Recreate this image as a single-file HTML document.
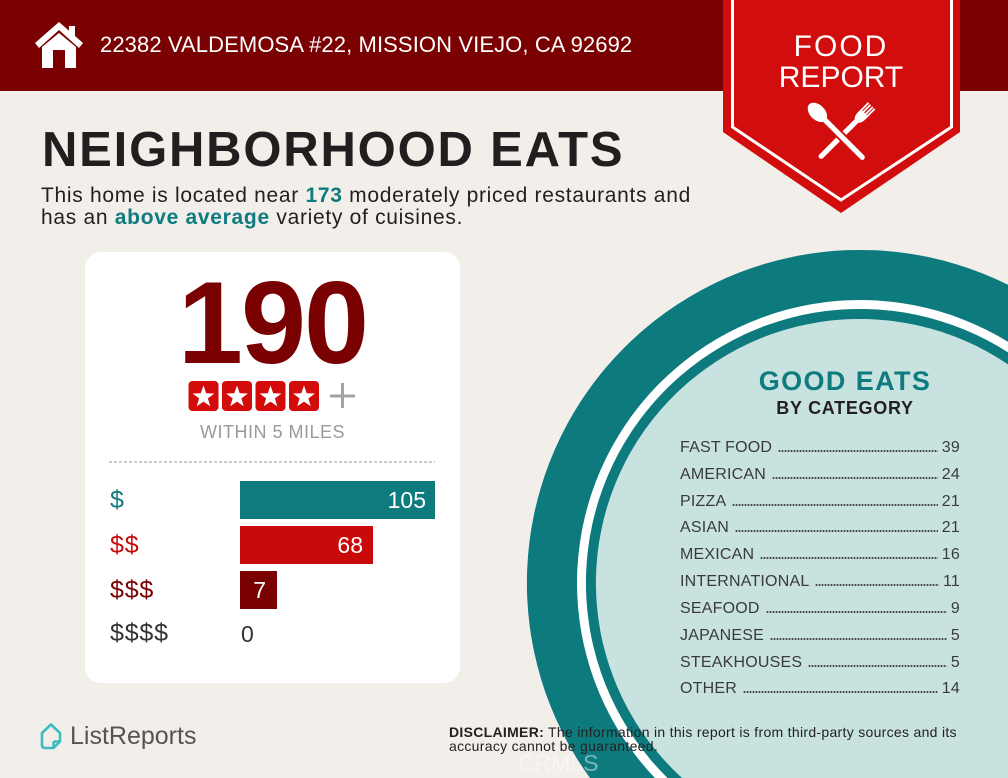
<!DOCTYPE html>
<html>
<head>
<meta charset="utf-8">
<style>
html,body{margin:0;padding:0;width:1008px;height:778px;overflow:hidden;}
body{background:#f2eeea;position:relative;font-family:"Liberation Sans",Arial,sans-serif;}
.a{position:absolute;white-space:nowrap;}
.row{position:absolute;left:680px;width:280px;height:16px;display:flex;align-items:baseline;font-size:16px;line-height:16px;color:#3a3a3a;letter-spacing:0.2px;}
.row .d{flex:1;height:2px;margin:0 4px 0 6px;background-image:radial-gradient(circle,#444 0.8px,transparent 1.25px);background-size:3px 2px;background-repeat:repeat-x;}
</style>
</head>
<body>
<!-- header bar -->
<div class="a" style="left:0;top:0;width:1008px;height:91px;background:#7a0101;"></div>

<!-- shapes -->
<svg class="a" style="left:0;top:0;display:block" width="1008" height="778" viewBox="0 0 1008 778">
  <!-- big circle (clipped to frame) -->
  <path d="M1008,284.7 A333,333 0 0,0 590,778 L1008,778 Z" fill="#0d7a7e"/>
  <path d="M1008,341.8 A283,283 0 0,0 654.9,778 L1008,778 Z" fill="#ffffff"/>
  <path d="M1008,352.4 A274,274 0 0,0 667.5,778 L1008,778 Z" fill="#0d7a7e"/>
  <path d="M1008,364.4 A264,264 0 0,0 682,778 L1008,778 Z" fill="#c8e2e0"/>

  <!-- ribbon -->
  <polygon points="723,0 960,0 960,132 841,213 723,132" fill="#d20d0d"/>
  <polyline points="732.5,0 732.5,127 841,200 951.5,127 951.5,0" fill="none" stroke="#ffffff" stroke-width="3"/>

  <!-- fork -->
  <g transform="translate(845.5,132) rotate(45)" fill="#ffffff">
    <rect x="-5.2" y="-37" width="1.8" height="11"/>
    <rect x="-2.5" y="-37" width="1.8" height="11"/>
    <rect x="0.7" y="-37" width="1.8" height="11"/>
    <rect x="3.4" y="-37" width="1.8" height="11"/>
    <path d="M-5.2,-27 L5.2,-27 L5.2,-23 Q5.2,-17 1.8,-15 L-1.8,-15 Q-5.2,-17 -5.2,-23 Z"/>
    <rect x="-2.6" y="-17" width="5.2" height="54" rx="2.6"/>
  </g>
  <!-- spoon -->
  <g transform="translate(836.5,131.5) rotate(-45)">
    <rect x="-4.5" y="-18" width="9" height="58" rx="4.5" fill="#d20d0d"/>
    <ellipse cx="0" cy="-27" rx="7.5" ry="11.5" fill="#ffffff"/>
    <rect x="-2.6" y="-18" width="5.2" height="57" rx="2.6" fill="#ffffff"/>
  </g>

  <!-- house icon -->
  <polygon points="35,43 59,22 83,43 79,48 59,30 39,48" fill="#ffffff"/>
  <rect x="69" y="26" width="6" height="11" fill="#ffffff"/>
  <polygon points="42,47 59,33 76,47 76,68 65,68 65,50 53,50 53,68 42,68" fill="#ffffff"/>

  <!-- ListReports icon -->
  <path d="M42,733 L51,724.5 L60,733 L60,741.5 L53.5,748 L45,748 Q42,748 42,745 Z" fill="none" stroke="#3cbcc0" stroke-width="2.6" stroke-linejoin="round"/>
  <path d="M53.5,748 L53.5,743.5 Q53.5,741.5 55.5,741.5 L60,741.5" fill="none" stroke="#3cbcc0" stroke-width="2.4" stroke-linejoin="round"/>
</svg>

<!-- header text -->
<div class="a" style="left:100px;top:34.4px;font-size:22px;line-height:22px;color:#ffffff;letter-spacing:0.1px;">22382 VALDEMOSA #22, MISSION VIEJO, CA 92692</div>
<div class="a" style="left:741px;width:200px;text-align:center;top:31.6px;font-size:30px;line-height:30px;color:#ffffff;letter-spacing:2px;">FOOD</div>
<div class="a" style="left:741px;width:200px;text-align:center;top:62.6px;font-size:30px;line-height:30px;color:#ffffff;">REPORT</div>

<!-- title -->
<div class="a" style="left:42px;top:125.5px;font-size:49px;line-height:49px;font-weight:bold;color:#221e1f;letter-spacing:1.8px;">NEIGHBORHOOD EATS</div>
<div class="a" style="left:41px;top:184.7px;font-size:21px;line-height:22px;color:#231f20;letter-spacing:0.7px;">This home is located near <b style="color:#0e7b7f">173</b> moderately priced restaurants and<br>has an <b style="color:#0e7b7f">above average</b> variety of cuisines.</div>

<!-- card -->
<div class="a" style="left:85px;top:252px;width:375px;height:431px;background:#ffffff;border-radius:16px;"></div>
<div class="a" style="left:85px;width:375px;text-align:center;top:264px;font-size:117px;line-height:117px;font-weight:bold;color:#7a0101;letter-spacing:-2px;">190</div>

<svg class="a" style="left:0;top:370px" width="460" height="50" viewBox="0 370 460 50">
  <g fill="#d40b0b">
    <rect x="188.5" y="381" width="30" height="30" rx="4"/>
    <rect x="222" y="381" width="30" height="30" rx="4"/>
    <rect x="255.5" y="381" width="30" height="30" rx="4"/>
    <rect x="289" y="381" width="30" height="30" rx="4"/>
  </g>
  <g fill="#ffffff">
    <polygon transform="translate(203.5,397) scale(11.5)" points="0,-1 0.235,-0.324 0.951,-0.309 0.38,0.124 0.588,0.809 0,0.4 -0.588,0.809 -0.38,0.124 -0.951,-0.309 -0.235,-0.324"/>
    <polygon transform="translate(237,397) scale(11.5)" points="0,-1 0.235,-0.324 0.951,-0.309 0.38,0.124 0.588,0.809 0,0.4 -0.588,0.809 -0.38,0.124 -0.951,-0.309 -0.235,-0.324"/>
    <polygon transform="translate(270.5,397) scale(11.5)" points="0,-1 0.235,-0.324 0.951,-0.309 0.38,0.124 0.588,0.809 0,0.4 -0.588,0.809 -0.38,0.124 -0.951,-0.309 -0.235,-0.324"/>
    <polygon transform="translate(304,397) scale(11.5)" points="0,-1 0.235,-0.324 0.951,-0.309 0.38,0.124 0.588,0.809 0,0.4 -0.588,0.809 -0.38,0.124 -0.951,-0.309 -0.235,-0.324"/>
  </g>
  <rect x="330" y="394.5" width="25" height="3" fill="#a3a3a3"/>
  <rect x="341" y="383" width="3" height="25" fill="#a3a3a3"/>
</svg>

<div class="a" style="left:85px;width:375px;text-align:center;top:422.8px;font-size:18px;line-height:18px;color:#9a9a9a;letter-spacing:0.5px;">WITHIN 5 MILES</div>

<svg class="a" style="left:0;top:455px" width="460" height="14" viewBox="0 455 460 14">
  <line x1="109" y1="462" x2="435" y2="462" stroke="#aaaaaa" stroke-width="1.2" stroke-dasharray="3 2"/>
</svg>

<!-- bars -->
<div class="a" style="left:240px;top:481px;width:195px;height:38px;background:#0e7b7f;"></div>
<div class="a" style="left:240px;top:526px;width:133px;height:38px;background:#c80a0a;"></div>
<div class="a" style="left:240px;top:571px;width:37px;height:38px;background:#7a0101;"></div>

<div class="a" style="left:240px;width:186px;text-align:right;top:488.8px;font-size:23px;line-height:23px;color:#ffffff;">105</div>
<div class="a" style="left:240px;width:123px;text-align:right;top:533.8px;font-size:23px;line-height:23px;color:#ffffff;">68</div>
<div class="a" style="left:240px;width:26px;text-align:right;top:578.8px;font-size:23px;line-height:23px;color:#ffffff;">7</div>
<div class="a" style="left:241px;top:622.5px;font-size:23px;line-height:23px;color:#333333;">0</div>

<div class="a" style="left:110px;top:487.8px;font-size:25px;line-height:25px;color:#0e7b7f;letter-spacing:0.8px;">$</div>
<div class="a" style="left:110px;top:532.8px;font-size:25px;line-height:25px;color:#c80a0a;letter-spacing:0.8px;">$$</div>
<div class="a" style="left:110px;top:577.8px;font-size:25px;line-height:25px;color:#7a0101;letter-spacing:0.8px;">$$$</div>
<div class="a" style="left:110px;top:621.3px;font-size:25px;line-height:25px;color:#333333;letter-spacing:0.8px;">$$$$</div>

<!-- good eats -->
<div class="a" style="left:745px;width:200px;text-align:center;top:368px;font-size:27px;line-height:27px;font-weight:bold;color:#0e7b7f;letter-spacing:1.4px;">GOOD EATS</div>
<div class="a" style="left:745px;width:200px;text-align:center;top:398.8px;font-size:18px;line-height:18px;font-weight:bold;color:#231f20;letter-spacing:0.7px;">BY CATEGORY</div>

<div class="row" style="top:439.8px"><span>FAST FOOD</span><span class="d"></span><span>39</span></div>
<div class="row" style="top:466.6px"><span>AMERICAN</span><span class="d"></span><span>24</span></div>
<div class="row" style="top:493.5px"><span>PIZZA</span><span class="d"></span><span>21</span></div>
<div class="row" style="top:520.3px"><span>ASIAN</span><span class="d"></span><span>21</span></div>
<div class="row" style="top:547.1px"><span>MEXICAN</span><span class="d"></span><span>16</span></div>
<div class="row" style="top:574.0px"><span>INTERNATIONAL</span><span class="d"></span><span>11</span></div>
<div class="row" style="top:600.8px"><span>SEAFOOD</span><span class="d"></span><span>9</span></div>
<div class="row" style="top:627.6px"><span>JAPANESE</span><span class="d"></span><span>5</span></div>
<div class="row" style="top:654.5px"><span>STEAKHOUSES</span><span class="d"></span><span>5</span></div>
<div class="row" style="top:681.3px"><span>OTHER</span><span class="d"></span><span>14</span></div>

<!-- footer -->
<div class="a" style="left:70px;top:723.8px;font-size:25px;line-height:25px;color:#545454;">ListReports</div>
<div class="a" style="left:449px;top:725.2px;font-size:14px;line-height:14px;color:#231f20;letter-spacing:0.3px;"><b>DISCLAIMER:</b> The information in this report is from third-party sources and its</div>
<div class="a" style="left:449px;top:739.2px;font-size:14px;line-height:14px;color:#231f20;letter-spacing:0.3px;">accuracy cannot be guaranteed.</div>
<div class="a" style="left:518px;top:752px;font-size:23px;line-height:23px;height:23px;color:#ffffff;opacity:0.45;">CRMLS</div>
</body>
</html>
